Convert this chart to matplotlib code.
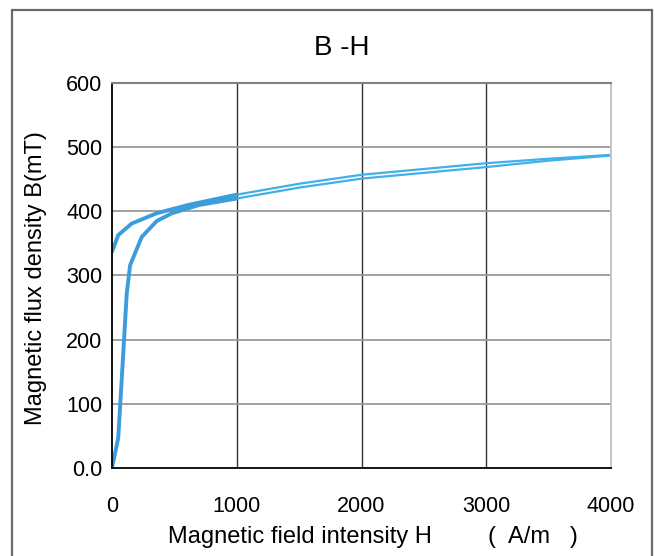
import matplotlib
matplotlib.use('Agg')
import matplotlib.pyplot as plt
from matplotlib.patches import Rectangle

plt.rcParams['font.family'] = ['Liberation Sans', 'DejaVu Sans']

# rising branch (from demagnetised state)
h_rise = [0, 50, 90, 118, 145, 238, 359, 480, 700, 1000, 1500, 2000, 2500, 3000, 3500, 4000]
b_rise = [0, 47, 178, 272, 316, 360, 385, 397, 410, 420, 437, 451, 460, 469, 479, 487]

# returning branch (towards remanence)
h_fall = [4000, 3500, 3000, 2500, 2000, 1500, 1000, 612, 358, 158, 50, 0]
b_fall = [488, 482, 475, 466, 457, 443, 426, 410, 397, 381, 363, 337]

x_ticks = [0, 1000, 2000, 3000, 4000]
y_ticks = [0, 100, 200, 300, 400, 500, 600]
y_labels = ['0.0', '100', '200', '300', '400', '500', '600']

fig = plt.figure(figsize=(6.55, 5.56), dpi=100)
ax = fig.add_axes([0.171, 0.1583, 0.762, 0.6924])

# thin lines over the whole range, heavier stroke near the knee
ax.plot(h_rise, b_rise, color='#3fb0e8', lw=1.6)
ax.plot(h_fall, b_fall, color='#3fb0e8', lw=1.6)
ax.plot(h_rise[:10], b_rise[:10], color='#3d9ddc', lw=2.8, solid_capstyle='round')
ax.plot(h_fall[6:], b_fall[6:], color='#3d9ddc', lw=2.8, solid_capstyle='round')

ax.set_xlim(0, 4000)
ax.set_ylim(0, 600)
ax.set_xticks(x_ticks)
ax.set_yticks(y_ticks)
ax.set_yticklabels(y_labels)
ax.tick_params(length=0, labelsize=15.5)
ax.tick_params(axis='x', pad=20)
ax.tick_params(axis='y', pad=7)

# grid: dark verticals, grey horizontals
for x in x_ticks[1:-1]:
    ax.axvline(x, color='#3a3232', lw=1.0, zorder=0)
for y in y_ticks[1:-1]:
    ax.axhline(y, color='#9a9a9a', lw=1.3, zorder=0)

ax.spines['left'].set_color('black')
ax.spines['bottom'].set_color('black')
ax.spines['left'].set_linewidth(1.3)
ax.spines['bottom'].set_linewidth(1.3)
ax.spines['top'].set_color('#808080')
ax.spines['top'].set_linewidth(1.5)
ax.spines['right'].set_color('#c0c0c0')
ax.spines['right'].set_linewidth(1.3)

fig.text(342 / 655, 1 - 48 / 556, 'B -H', fontsize=20, ha='center', va='center')
fig.text(36 / 655, 1 - 278 / 556, 'Magnetic flux density B(mT)', fontsize=17,
         rotation=90, ha='center', va='center')
fig.text(168 / 655, 1 - 537 / 556, 'Magnetic field intensity H',
         fontsize=17, ha='left', va='center')
fig.text(488 / 655, 1 - 537 / 556, '(  A/m   )',
         fontsize=17, ha='left', va='center')

# outer frame
fig.patches.append(Rectangle((12 / 655, -0.05), 639.5 / 655, 1.05 - 10 / 556,
                             transform=fig.transFigure, fill=False,
                             edgecolor='#6a6a6a', lw=1.6))

fig.savefig('out.png', dpi=100)
